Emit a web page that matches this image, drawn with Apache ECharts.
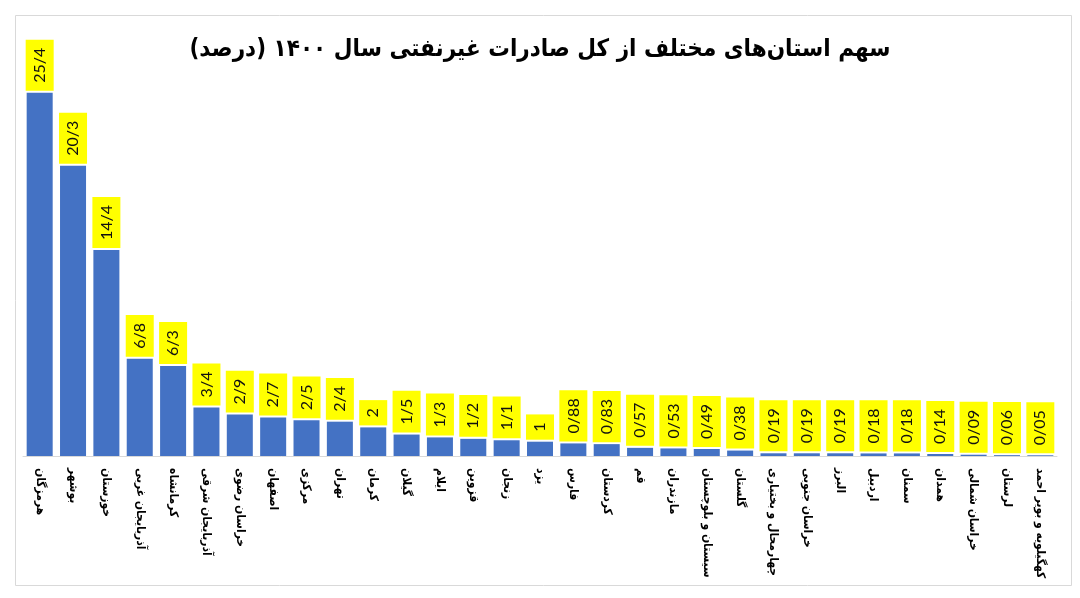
<!DOCTYPE html>
<html>
<head>
<meta charset="utf-8">
<script src="https://cdn.jsdelivr.net/npm/echarts@6/dist/echarts.min.js"></script>
<style>html,body{margin:0;padding:0;background:#fff}#c{width:1080px;height:598px}</style>
</head>
<body>
<div id="c"></div>
<script>
const titleText = 'سهم استان‌های مختلف از کل صادرات غیرنفتی سال ۱۴۰۰ (درصد)';
const provinces = ['هرمزگان','بوشهر','خوزستان','آذربایجان غربی','کرمانشاه','آذربایجان شرقی','خراسان رضوی','اصفهان','مرکزی','تهران','کرمان','گیلان','ایلام','قزوین','زنجان','یزد','فارس','کردستان','قم','مازندران','سیستان و بلوچستان','گلستان','چهارمحال و بختیاری','خراسان جنوبی','البرز','اردبیل','سمنان','همدان','خراسان شمالی','لرستان','کهگیلویه و بویر احمد'];
const shares = [25.4,20.3,14.4,6.8,6.3,3.4,2.9,2.7,2.5,2.4,2,1.5,1.3,1.2,1.1,1,0.88,0.83,0.57,0.53,0.49,0.38,0.19,0.19,0.19,0.18,0.18,0.14,0.09,0.06,0.05];

const chart = echarts.init(document.getElementById('c'));
chart.setOption({
  animation: false,
  backgroundColor: '#fff',
  graphic: [{
    type: 'rect', left: 13, top: 13, shape: {width: 1056, height: 570},
    style: {fill: 'none', stroke: '#d9d9d9', lineWidth: 1}, z: -1
  }],
  title: {
    text: titleText, left: 'center', top: 33,
    textStyle: {fontFamily: 'DejaVu Sans Condensed, DejaVu Sans', fontWeight: 'bold', fontSize: 24, color: '#000'}
  },
  grid: {left: 23, right: 23, top: 27, bottom: 142},
  xAxis: {
    type: 'category', data: provinces,
    axisLine: {lineStyle: {color: '#d9d9d9'}},
    axisTick: {show: false},
    axisLabel: {interval: 0, rotate: -90, margin: 12, fontFamily: 'DejaVu Sans Condensed, DejaVu Sans', fontWeight: 'bold', fontSize: 12, color: '#000'}
  },
  yAxis: {type: 'value', min: 0, max: 30, show: false, splitLine: {show: false}},
  series: [{
    type: 'bar', data: shares, barCategoryGap: '22%',
    itemStyle: {color: '#4472C4'},
    label: {
      show: true, position: 'top', rotate: 90, align: 'left', verticalAlign: 'middle', distance: 2,
      formatter: p => String(p.value).replace('.', '/'),
      backgroundColor: '#FFFF00', padding: [5, 8], fontFamily: 'Lato', fontSize: 16, lineHeight: 18, color: '#111'
    }
  }]
});
</script>
</body>
</html>
